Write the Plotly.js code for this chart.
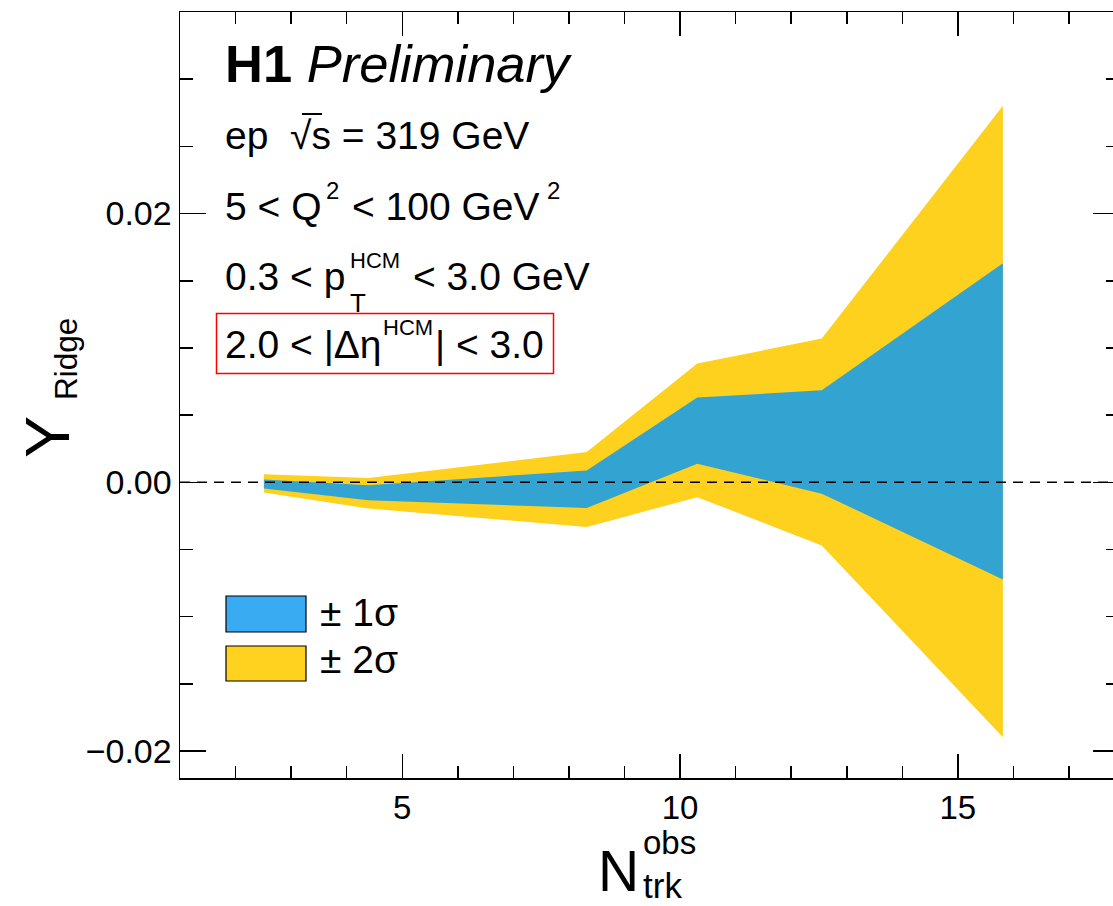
<!DOCTYPE html>
<html>
<head>
<meta charset="utf-8">
<script src="https://cdn.plot.ly/plotly-3.0.1.min.js"></script>
<style>
html,body{margin:0;padding:0;overflow:hidden;background:#fff;}
#plot{width:1130px;height:906px;}
</style>
</head>
<body>
<div id="plot"></div>
<script>
// ---- data ----
const nTrk   = [2.51, 4.39, 8.32, 10.31, 12.55, 15.81];
const up2sig = [0.00060, 0.00032, 0.00226, 0.00884, 0.01070, 0.02802];
const up1sig = [0.00022, -0.00022, 0.00089, 0.00631, 0.00685, 0.01631];
const dn1sig = [-0.00045, -0.00134, -0.00191, 0.00139, -0.00084, -0.00722];
const dn2sig = [-0.00075, -0.00194, -0.00333, -0.00110, -0.00469, -0.01896];
const legendLabels = ['\u00b1 1\u03c3', '\u00b1 2\u03c3'];

// ---- style ----
const FONT = 'Liberation Sans, Arial, Helvetica, sans-serif';
const YELLOW = '#FDD11E';
const BLUE = '#33A3D1';
const BLUE_LEG = '#38ABF2';
const YELLOW_LEG = '#FFD21F';

// plot-area pixel frame (for placing text/legend)
const L = 180, R = 1119, T = 12, B = 778;
const px = v => (v - L) / (R - L);
const py = v => (B - v) / (B - T);

function band(lo, hi, color) {
  return {
    x: nTrk.concat(nTrk.slice().reverse()),
    y: hi.concat(lo.slice().reverse()),
    type: 'scatter', mode: 'lines', fill: 'toself',
    fillcolor: color, line: {width: 0, color: color},
    hoverinfo: 'skip', showlegend: false
  };
}

const traces = [band(dn2sig, up2sig, YELLOW), band(dn1sig, up1sig, BLUE)];

function txt(xpx, basepx, text, size, extra) {
  return Object.assign({
    xref: 'paper', yref: 'paper',
    x: px(xpx), y: py(basepx - 0.35 * size),
    xanchor: 'left', yanchor: 'middle',
    text: text, showarrow: false,
    font: {family: FONT, size: size, color: '#000'}
  }, extra || {});
}

const annotations = [
  txt(223, 82, '<b>H1</b> <i>Preliminary</i>', 52.5),
  txt(223, 149, 'ep  \u221As = 319 GeV', 39),
  txt(223, 220, '5 < Q', 39),
  txt(324, 199, '2', 24),
  txt(350, 220, '< 100 GeV', 39),
  txt(545, 199, '2', 24),
  txt(223, 290, '0.3 < p', 39),
  txt(348, 268, 'HCM', 22),
  txt(348, 312, 'T', 26),
  txt(411, 290, '< 3.0 GeV', 39),
  txt(223, 358, '2.0 < |\u0394\u03b7', 39),
  txt(381, 335, 'HCM', 22),
  txt(433, 358, '| < 3.0', 39),
  txt(318, 626, legendLabels[0], 39),
  txt(318, 673, legendLabels[1], 39),
  // x-axis title
  txt(596, 891, 'N', 57),
  txt(641, 854, 'obs', 33),
  txt(641, 898, 'trk', 35),
  // y-axis title (rotated)
  {xref: 'paper', yref: 'paper', x: px(47), y: py(437), xanchor: 'center', yanchor: 'middle',
   text: 'Y', textangle: -90, showarrow: false, font: {family: FONT, size: 63, color: '#000'}},
  {xref: 'paper', yref: 'paper', x: px(66), y: py(359), xanchor: 'center', yanchor: 'middle',
   text: 'Ridge', textangle: -90, showarrow: false, font: {family: FONT, size: 31.5, color: '#000'}}
];

const shapes = [
  {type: 'line', xref: 'paper', yref: 'y', x0: 0, x1: 1, y0: 0, y1: 0, layer: 'above',
   line: {color: '#000', width: 1.5, dash: '10px,7px'}},
  // radical overbar of sqrt(s)
  {type: 'line', xref: 'paper', yref: 'paper', x0: px(302), x1: px(322), y0: py(114), y1: py(114),
   line: {color: '#000', width: 2}, layer: 'above'},
  {type: 'rect', xref: 'paper', yref: 'paper', x0: px(216.5), x1: px(553.5), y0: py(373.5), y1: py(313.5),
   line: {color: '#ff0000', width: 1.5}, fillcolor: 'rgba(0,0,0,0)', layer: 'above'},
  {type: 'rect', xref: 'paper', yref: 'paper', x0: px(226), x1: px(306), y0: py(632), y1: py(596),
   line: {color: '#000', width: 1.2}, fillcolor: BLUE_LEG, layer: 'above'},
  {type: 'rect', xref: 'paper', yref: 'paper', x0: px(226), x1: px(306), y0: py(681), y1: py(646),
   line: {color: '#000', width: 1.2}, fillcolor: YELLOW_LEG, layer: 'above'}
];

const axisCommon = {
  showline: true, linecolor: '#000', linewidth: 1.5, mirror: 'allticks',
  ticks: 'inside', tickcolor: '#000', tickwidth: 1.5,
  showgrid: false, zeroline: false, fixedrange: true,
  tickfont: {family: FONT, size: 33, color: '#000'}
};

const layout = {
  width: 1130, height: 906,
  margin: {l: L, r: 1130 - R, t: T, b: 906 - B, pad: 0},
  paper_bgcolor: '#fff', plot_bgcolor: '#fff',
  showlegend: false,
  xaxis: Object.assign({}, axisCommon, {
    range: [1, 17.9], tickmode: 'linear', tick0: 0, dtick: 5, ticklen: 24,
    minor: {dtick: 1, tick0: 0, ticks: 'inside', ticklen: 12, tickwidth: 1.5, tickcolor: '#000', showgrid: false}
  }),
  yaxis: Object.assign({}, axisCommon, {
    range: [-0.022, 0.035], tickmode: 'linear', tick0: 0, dtick: 0.02, ticklen: 26,
    tickformat: '.2f',
    tickfont: {family: FONT, size: 34, color: '#000'},
    minor: {dtick: 0.005, tick0: 0, ticks: 'inside', ticklen: 13, tickwidth: 1.5, tickcolor: '#000', showgrid: false}
  }),
  annotations: annotations,
  shapes: shapes
};

Plotly.newPlot('plot', traces, layout, {displayModeBar: false, staticPlot: true});
</script>
</body>
</html>
